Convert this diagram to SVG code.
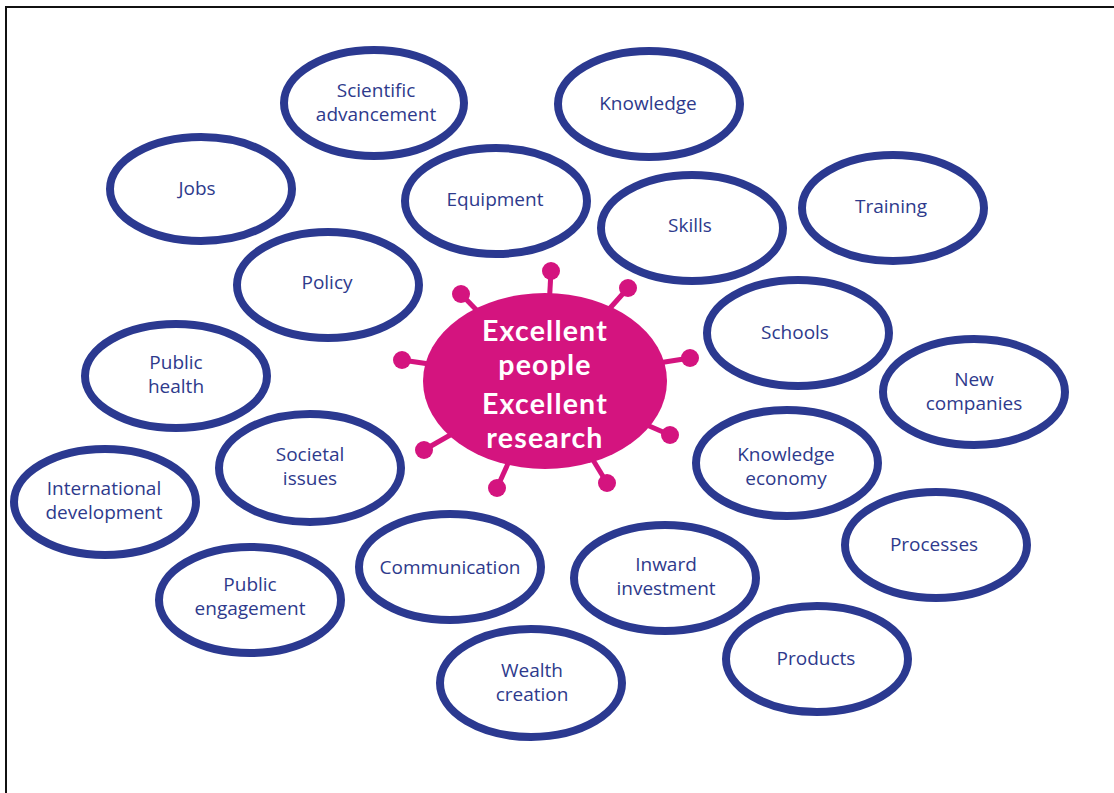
<svg xmlns="http://www.w3.org/2000/svg" width="1114" height="793" viewBox="0 0 1114 793">
<style>
.n ellipse{fill:none;stroke:#2b3990;stroke-width:8}
.n text{font-family:"Open Sans","Noto Sans",sans-serif;font-size:19px;fill:#2e3a8c;text-anchor:middle}
.hub text{font-family:Lato,"Open Sans",sans-serif;font-size:28.5px;font-weight:bold;fill:#fff;text-anchor:middle;letter-spacing:1.2px}
.sp line{stroke:#d4147f;stroke-width:5}
.sp circle{fill:#d4147f}
</style>
<rect x="0" y="0" width="1114" height="793" fill="#fff"/>
<path d="M6 793 V7 H1114" fill="none" stroke="#111" stroke-width="2"/>
<g id="connectors" class="sp">
<line x1="545" y1="381" x2="551" y2="271"/><circle cx="551" cy="271" r="9"/>
<line x1="545" y1="381" x2="628" y2="288"/><circle cx="628" cy="288" r="9"/>
<line x1="545" y1="381" x2="461" y2="294"/><circle cx="461" cy="294" r="9"/>
<line x1="545" y1="381" x2="402" y2="360"/><circle cx="402" cy="360" r="9"/>
<line x1="545" y1="381" x2="690" y2="358"/><circle cx="690" cy="358" r="9"/>
<line x1="545" y1="381" x2="670" y2="435"/><circle cx="670" cy="435" r="9"/>
<line x1="545" y1="381" x2="424" y2="450"/><circle cx="424" cy="450" r="9"/>
<line x1="545" y1="381" x2="497" y2="488"/><circle cx="497" cy="488" r="9"/>
<line x1="545" y1="381" x2="607" y2="483"/><circle cx="607" cy="483" r="9"/>
</g>
<g id="hub" class="hub">
<ellipse cx="545" cy="381" rx="122" ry="88" fill="#d4147f"/>
<text x="545" y="341">Excellent</text>
<text x="545" y="375">people</text>
<text x="545" y="414">Excellent</text>
<text x="545" y="448">research</text>
</g>
<g id="n-scientific" class="n"><ellipse cx="374" cy="103" rx="90" ry="53"/><text x="376" y="97">Scientific</text><text x="376" y="121">advancement</text></g>
<g id="n-knowledge" class="n"><ellipse cx="649" cy="104" rx="91" ry="53"/><text x="648" y="110">Knowledge</text></g>
<g id="n-jobs" class="n"><ellipse cx="201" cy="189" rx="91" ry="52"/><text x="197" y="195">Jobs</text></g>
<g id="n-equipment" class="n"><ellipse cx="496" cy="201" rx="91" ry="53"/><text x="495" y="206">Equipment</text></g>
<g id="n-skills" class="n"><ellipse cx="692" cy="228" rx="91" ry="53"/><text x="690" y="232">Skills</text></g>
<g id="n-training" class="n"><ellipse cx="893" cy="208" rx="91" ry="53"/><text x="891" y="213">Training</text></g>
<g id="n-policy" class="n"><ellipse cx="328" cy="285" rx="91" ry="53"/><text x="327" y="289">Policy</text></g>
<g id="n-schools" class="n"><ellipse cx="798" cy="333" rx="91" ry="53"/><text x="795" y="339">Schools</text></g>
<g id="n-publichealth" class="n"><ellipse cx="176" cy="376" rx="91" ry="52"/><text x="176" y="369">Public</text><text x="176" y="393">health</text></g>
<g id="n-newcompanies" class="n"><ellipse cx="974" cy="392" rx="91" ry="53"/><text x="974" y="386">New</text><text x="974" y="410">companies</text></g>
<g id="n-societal" class="n"><ellipse cx="310" cy="468" rx="91" ry="54"/><text x="310" y="461">Societal</text><text x="310" y="485">issues</text></g>
<g id="n-kecon" class="n"><ellipse cx="787" cy="463" rx="91" ry="53"/><text x="786" y="461">Knowledge</text><text x="786" y="485">economy</text></g>
<g id="n-intl" class="n"><ellipse cx="105" cy="502" rx="91" ry="53"/><text x="104" y="495">International</text><text x="104" y="519">development</text></g>
<g id="n-processes" class="n"><ellipse cx="936" cy="545" rx="91" ry="53"/><text x="934" y="551">Processes</text></g>
<g id="n-communication" class="n"><ellipse cx="450" cy="567" rx="91" ry="53"/><text x="450" y="574">Communication</text></g>
<g id="n-inward" class="n"><ellipse cx="665" cy="578" rx="91" ry="53"/><text x="666" y="571">Inward</text><text x="666" y="595">investment</text></g>
<g id="n-publiceng" class="n"><ellipse cx="250" cy="600" rx="91" ry="53"/><text x="250" y="591">Public</text><text x="250" y="615">engagement</text></g>
<g id="n-products" class="n"><ellipse cx="817" cy="659" rx="91" ry="53"/><text x="816" y="665">Products</text></g>
<g id="n-wealth" class="n"><ellipse cx="531" cy="683" rx="91" ry="54"/><text x="532" y="677">Wealth</text><text x="532" y="701">creation</text></g>
</svg>
